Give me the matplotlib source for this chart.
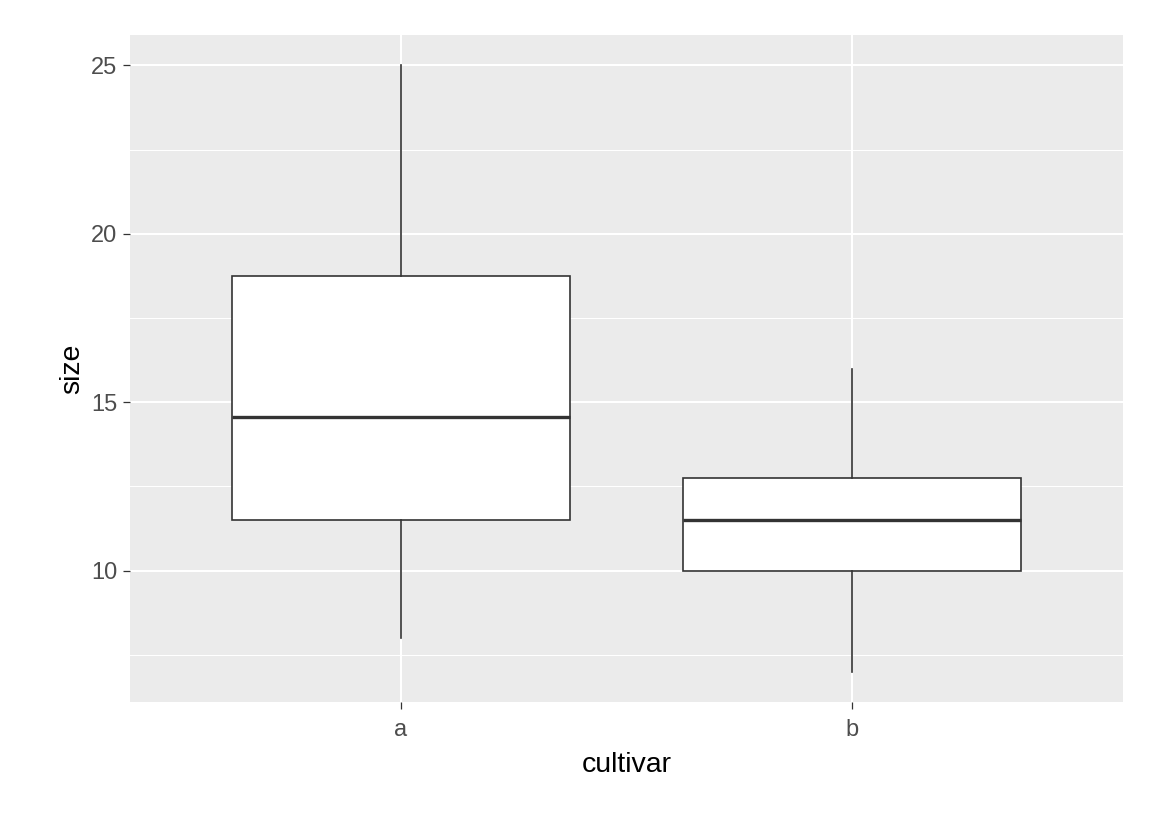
import matplotlib
matplotlib.use("Agg")
import matplotlib.pyplot as plt
from matplotlib.ticker import MultipleLocator

plt.rcParams['font.family'] = ['Liberation Sans', 'DejaVu Sans']

# box stats
cultivars = ['a', 'b']
whisker_low = [8.0, 7.0]
q1 = [11.5, 10.0]
median = [14.55, 11.5]
q3 = [18.75, 12.75]
whisker_high = [25.0, 16.0]

stats = []
for i, name in enumerate(cultivars):
    stats.append({
        'label': name,
        'whislo': whisker_low[i],
        'q1': q1[i],
        'med': median[i],
        'q3': q3[i],
        'whishi': whisker_high[i],
        'fliers': [],
    })

fig = plt.figure(figsize=(11.73, 8.15), dpi=100)
ax = fig.add_axes([130 / 1173, 1 - 702 / 815, (1123 - 130) / 1173, (702 - 35) / 815])
ax.set_facecolor('#EBEBEB')

dark = '#333333'
ax.bxp(stats, positions=[1, 2], widths=0.75, patch_artist=True, showcaps=False,
       boxprops=dict(facecolor='white', edgecolor=dark, linewidth=1.2),
       whiskerprops=dict(color=dark, linewidth=1.2),
       medianprops=dict(color=dark, linewidth=2.4, solid_capstyle='butt'),
       zorder=3)

ax.set_xlim(0.4, 2.6)
lo, hi = min(whisker_low), max(whisker_high)
pad = (hi - lo) * 0.05
ax.set_ylim(lo - pad, hi + pad)

ax.yaxis.set_major_locator(MultipleLocator(5))
ax.yaxis.set_minor_locator(MultipleLocator(2.5))
ax.grid(which='major', color='white', linewidth=1.5, zorder=0)
ax.grid(which='minor', axis='y', color='white', linewidth=0.75, zorder=0)
ax.set_axisbelow(True)

ax.set_xticks([1, 2])
ax.set_xticklabels(cultivars)
for s in ax.spines.values():
    s.set_visible(False)
ax.tick_params(which='major', length=5, width=0.9, color=dark,
               labelcolor='#4D4D4D', labelsize=17)
ax.tick_params(axis='x', pad=7)
ax.tick_params(axis='y', pad=4)
ax.tick_params(which='minor', length=0)

ax.set_xlabel('cultivar', fontsize=20.5, color='black', labelpad=8)
ax.set_ylabel('size', fontsize=20.5, color='black', labelpad=4)

fig.savefig('out.png', dpi=100)
